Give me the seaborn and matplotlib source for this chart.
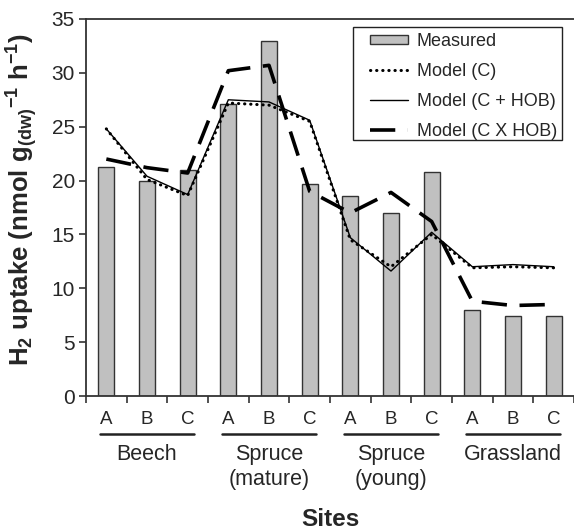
import numpy as np
import pandas as pd
import matplotlib
matplotlib.use("Agg")
import matplotlib.pyplot as plt
import matplotlib.transforms as mtransforms
from matplotlib.lines import Line2D
from matplotlib.patches import Patch, Rectangle
import seaborn as sns

# ---------------- data ----------------
groups = ["Beech", "Spruce\n(mature)", "Spruce\n(young)", "Grassland"]
subsites = ["A", "B", "C"]
measured = [21.3, 20.0, 21.0, 27.1, 33.0, 19.7, 18.6, 17.0, 20.8, 8.0, 7.45, 7.45]
model_c = [24.8, 20.1, 18.6, 27.2, 27.0, 25.5, 14.5, 12.0, 15.0, 11.9, 12.0, 11.9]
model_c_hob = [24.8, 20.4, 18.7, 27.5, 27.3, 25.6, 14.7, 11.6, 15.2, 12.0, 12.2, 12.0]
model_cxhob = [22.0, 21.2, 20.7, 30.2, 30.7, 19.0, 17.0, 18.9, 16.2, 8.8, 8.4, 8.5]
yticks = [0, 5, 10, 15, 20, 25, 30, 35]

site_ids = [f"{g.split(chr(10))[0]} {g.split(chr(10))[-1]} {s}" for g in groups for s in subsites]
pos = np.arange(len(measured))
df = pd.DataFrame({"site": site_ids, "pos": pos, "measured": measured,
                   "model_c": model_c, "model_c_hob": model_c_hob,
                   "model_cxhob": model_cxhob})

# ---------------- style ----------------
sns.set_style("white")
plt.rcParams["font.family"] = ["Liberation Sans", "DejaVu Sans"]
plt.rcParams["mathtext.fontset"] = "custom"
plt.rcParams["mathtext.rm"] = "Liberation Sans"
plt.rcParams["mathtext.it"] = "Liberation Sans:italic"
plt.rcParams["mathtext.bf"] = "Liberation Sans:bold"

W, H = 574, 530
fig = plt.figure(figsize=(W / 100, H / 100), dpi=100)
ax = fig.add_axes([86 / W, 1 - 396 / H, (574 - 86) / W, (396 - 19) / H])

spine_col = "#333333"
sns.barplot(data=df, x="site", y="measured", ax=ax, color="#c0c0c0",
            edgecolor=spine_col, linewidth=1.0, width=0.4, saturation=1)

dot_kw = dict(color="black", lw=2.2, linestyle=(0, (0.1, 1.9)), dash_capstyle="round")
solid_kw = dict(color="black", lw=1.0)
dash_kw = dict(color="black", lw=2.6, linestyle=(0, (7, 3.5)), dash_capstyle="butt")

sns.lineplot(data=df, x="pos", y="model_c", ax=ax, **dot_kw)
sns.lineplot(data=df, x="pos", y="model_c_hob", ax=ax, **solid_kw)
sns.lineplot(data=df, x="pos", y="model_cxhob", ax=ax, **dash_kw)

ax.set_xlim(-0.5, len(measured) - 0.5)
ax.set_ylim(0, 35)
ax.set_yticks(yticks)
ax.set_yticklabels([str(t) for t in yticks], fontsize=15)
ax.set_xticks(np.arange(-0.5, len(measured) + 0.5, 1.0))
ax.set_xticklabels([])
ax.tick_params(axis="both", direction="out", length=5, width=1.2, color=spine_col,
               pad=3, left=True, bottom=True)
ax.set_xlabel("")
ax.set_ylabel("")
for s in ["left", "bottom", "top"]:
    ax.spines[s].set_visible(True)
    ax.spines[s].set_color(spine_col)
    ax.spines[s].set_linewidth(1.3)
ax.spines["right"].set_visible(False)

# category labels & group labels below axis
trans = mtransforms.blended_transform_factory(ax.transData, fig.transFigure)
for i, sid in enumerate(site_ids):
    ax.text(i, 1 - 420 / H, subsites[i % 3], transform=trans, ha="center",
            va="center", fontsize=13.5)
for gi, g in enumerate(groups):
    a, c = gi * 3, gi * 3 + 2
    ax.add_line(Line2D([a - 0.15, c + 0.15], [1 - 434 / H, 1 - 434 / H],
                       transform=trans, color="#222222", lw=1.8, clip_on=False))
    ax.text(gi * 3 + 1, 1 - 444 / H, g, transform=trans, ha="center", va="top",
            fontsize=15.5, linespacing=1.25)

fig.text((86 + 574) / 2 / W, 1 - 519 / H, "Sites", ha="center", va="center",
         fontsize=17.5, fontweight="bold")
fig.text(22 / W, 1 - 200 / H,
         r"$\mathbf{H_2\ uptake\ (nmol\ g_{(dw)}{}^{-1}\ h^{-1})}$",
         rotation=90, ha="center", va="center", fontsize=18.5)

# legend (frame drawn as a separate rectangle beneath it)
ax.add_patch(Rectangle((353 / W, 1 - 140 / H), (562 - 353) / W, (140 - 27) / H,
                       transform=fig.transFigure, facecolor="white",
                       edgecolor="#222222", linewidth=1.0, zorder=4, clip_on=False))
handles = [
    Patch(facecolor="#c0c0c0", edgecolor=spine_col, linewidth=1.0, label="Measured"),
    Line2D([], [], label="Model (C)", **dot_kw),
    Line2D([], [], label="Model (C + HOB)", **solid_kw),
    Line2D([], [], label="Model (C X HOB)", **dash_kw),
]
leg = ax.legend(handles=handles, loc="upper left",
                bbox_to_anchor=(370 / W, 1 - 33 / H), bbox_transform=fig.transFigure,
                borderaxespad=0, borderpad=0, fontsize=13, handlelength=2.1,
                handleheight=0.45, handletextpad=0.5, labelspacing=0.72,
                frameon=False)
leg.set_zorder(6)

fig.savefig("out.png", dpi=100)
